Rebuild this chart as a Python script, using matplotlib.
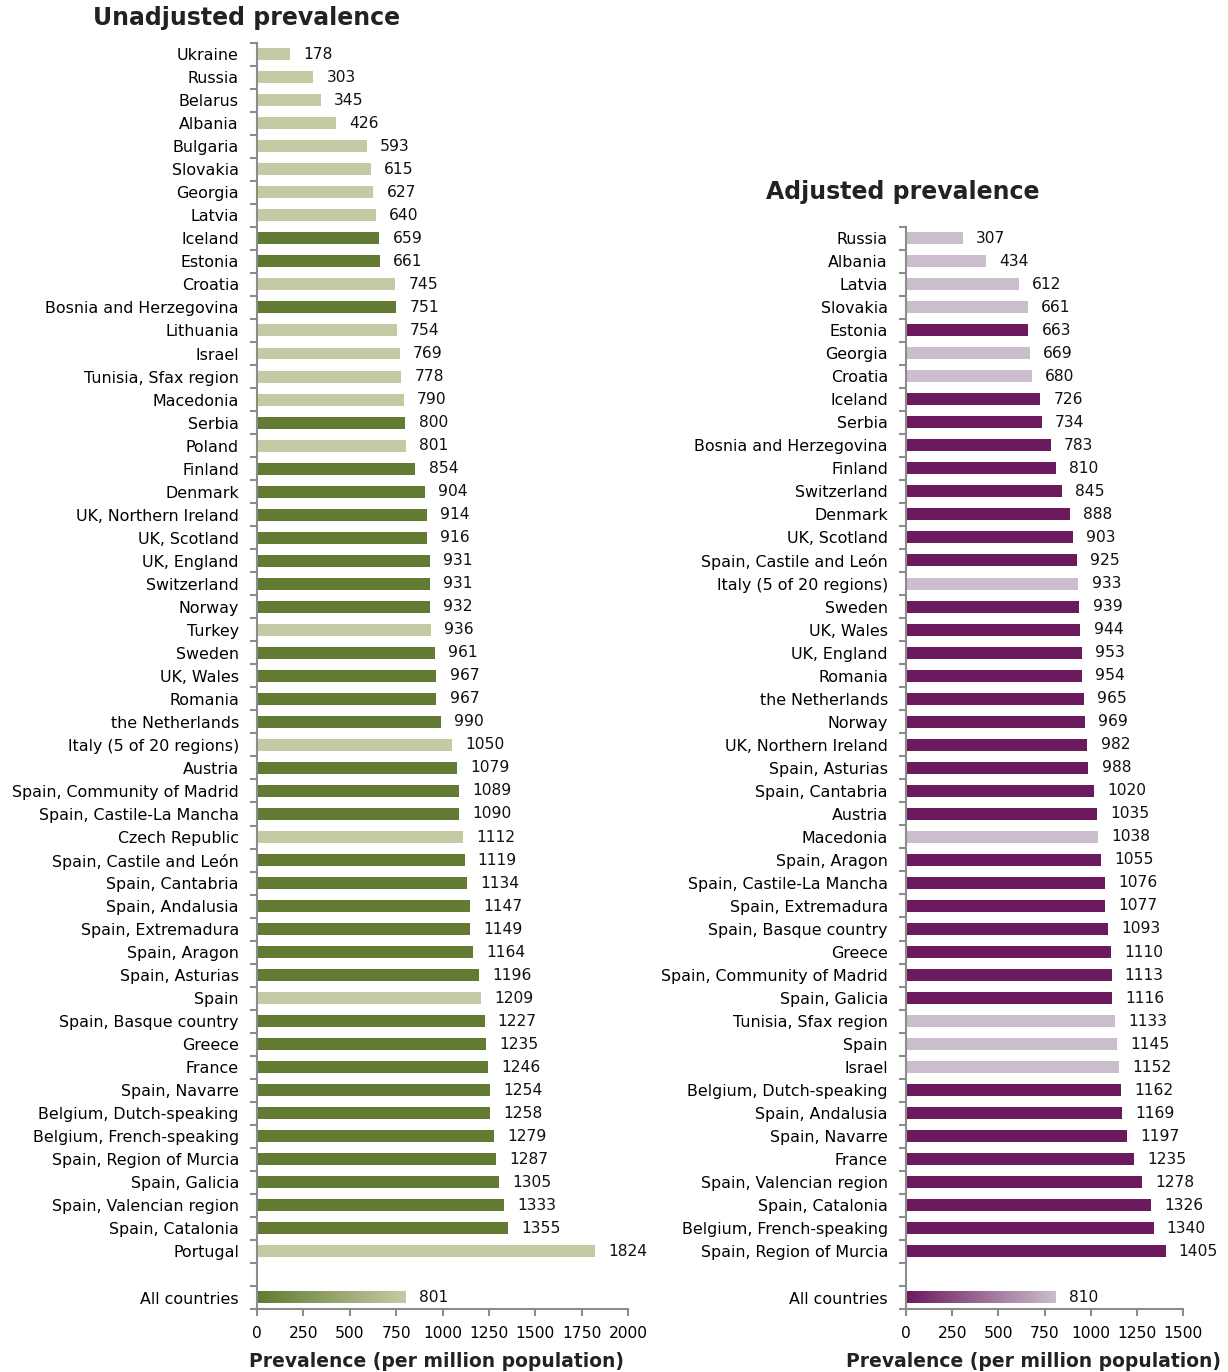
import numpy as np
import matplotlib
matplotlib.use("Agg")
import matplotlib.pyplot as plt
from matplotlib.colors import LinearSegmentedColormap

# unadjusted prevalence (per million population), top to bottom
unadj_names = [
    "Ukraine", "Russia", "Belarus", "Albania", "Bulgaria", "Slovakia", "Georgia", "Latvia",
    "Iceland", "Estonia", "Croatia", "Bosnia and Herzegovina", "Lithuania", "Israel",
    "Tunisia, Sfax region", "Macedonia", "Serbia", "Poland", "Finland", "Denmark",
    "UK, Northern Ireland", "UK, Scotland", "UK, England", "Switzerland", "Norway", "Turkey",
    "Sweden", "UK, Wales", "Romania", "the Netherlands", "Italy (5 of 20 regions)", "Austria",
    "Spain, Community of Madrid", "Spain, Castile-La Mancha", "Czech Republic",
    "Spain, Castile and León", "Spain, Cantabria", "Spain, Andalusia", "Spain, Extremadura",
    "Spain, Aragon", "Spain, Asturias", "Spain", "Spain, Basque country", "Greece", "France",
    "Spain, Navarre", "Belgium, Dutch-speaking", "Belgium, French-speaking",
    "Spain, Region of Murcia", "Spain, Galicia", "Spain, Valencian region", "Spain, Catalonia",
    "Portugal",
]
unadj_vals = [
    178, 303, 345, 426, 593, 615, 627, 640, 659, 661, 745, 751, 754, 769, 778, 790, 800, 801,
    854, 904, 914, 916, 931, 931, 932, 936, 961, 967, 967, 990, 1050, 1079, 1089, 1090, 1112,
    1119, 1134, 1147, 1149, 1164, 1196, 1209, 1227, 1235, 1246, 1254, 1258, 1279, 1287, 1305,
    1333, 1355, 1824,
]
# 1 = light bar group
unadj_light = [
    1, 1, 1, 1, 1, 1, 1, 1, 0, 0, 1, 0, 1, 1, 1, 1, 0, 1, 0, 0, 0, 0, 0, 0, 0, 1, 0, 0, 0, 0,
    1, 0, 0, 0, 1, 0, 0, 0, 0, 0, 0, 1, 0, 0, 0, 0, 0, 0, 0, 0, 0, 0, 1,
]
unadj_all = 801

# adjusted prevalence
adj_names = [
    "Russia", "Albania", "Latvia", "Slovakia", "Estonia", "Georgia", "Croatia", "Iceland",
    "Serbia", "Bosnia and Herzegovina", "Finland", "Switzerland", "Denmark", "UK, Scotland",
    "Spain, Castile and León", "Italy (5 of 20 regions)", "Sweden", "UK, Wales", "UK, England",
    "Romania", "the Netherlands", "Norway", "UK, Northern Ireland", "Spain, Asturias",
    "Spain, Cantabria", "Austria", "Macedonia", "Spain, Aragon", "Spain, Castile-La Mancha",
    "Spain, Extremadura", "Spain, Basque country", "Greece", "Spain, Community of Madrid",
    "Spain, Galicia", "Tunisia, Sfax region", "Spain", "Israel", "Belgium, Dutch-speaking",
    "Spain, Andalusia", "Spain, Navarre", "France", "Spain, Valencian region",
    "Spain, Catalonia", "Belgium, French-speaking", "Spain, Region of Murcia",
]
adj_vals = [
    307, 434, 612, 661, 663, 669, 680, 726, 734, 783, 810, 845, 888, 903, 925, 933, 939, 944,
    953, 954, 965, 969, 982, 988, 1020, 1035, 1038, 1055, 1076, 1077, 1093, 1110, 1113, 1116,
    1133, 1145, 1152, 1162, 1169, 1197, 1235, 1278, 1326, 1340, 1405,
]
adj_light = [
    1, 1, 1, 1, 0, 1, 1, 0, 0, 0, 0, 0, 0, 0, 0, 1, 0, 0, 0, 0, 0, 0, 0, 0, 0, 0, 1, 0, 0, 0,
    0, 0, 0, 0, 1, 1, 1, 0, 0, 0, 0, 0, 0, 0, 0,
]
adj_all = 810

plt.rcParams['font.family'] = ['DejaVu Sans']
AXIS_GREY = '#8c8c8c'

fig = plt.figure(figsize=(12.28, 13.72), dpi=100)


def draw_panel(ax, names, vals, light, all_val, dark_c, light_c, xmax, xstep):
    n = len(names)
    ys = np.arange(n)
    cols = [light_c if l else dark_c for l in light]
    ax.barh(ys, vals, height=0.52, color=cols)
    for y, v in zip(ys, vals):
        ax.annotate(str(v), (v, y), xytext=(9.5, 0), textcoords='offset points',
                    va='center', ha='left', fontsize=11.2, color='#111111')
    # "All countries" after one blank slot, gradient fill
    y_all = n + 1
    cmap = LinearSegmentedColormap.from_list('g', [dark_c, light_c])
    grad = np.linspace(0, 1, 256).reshape(1, -1)
    ax.imshow(grad, cmap=cmap, aspect='auto',
              extent=(0, all_val, y_all + 0.26, y_all - 0.26), zorder=2)
    ax.annotate(str(all_val), (all_val, y_all), xytext=(9.5, 0), textcoords='offset points',
                va='center', ha='left', fontsize=11.2, color='#111111')

    ax.set_xlim(0, xmax)
    ax.set_ylim(y_all + 0.5, -0.5)
    ax.set_yticks(list(ys) + [y_all])
    ax.set_yticklabels(names + ["All countries"], fontsize=11.4)
    ax.set_yticks(np.arange(-0.5, y_all + 1), minor=True)
    ax.tick_params(axis='y', which='major', length=0, pad=13)
    ax.tick_params(axis='y', which='minor', length=5, color=AXIS_GREY, width=1.5)
    ax.set_xticks(np.arange(0, xmax + 1, xstep))
    ax.tick_params(axis='x', length=5, color=AXIS_GREY, width=1.5, labelsize=11.2, pad=7)
    for s in ['top', 'right']:
        ax.spines[s].set_visible(False)
    for s in ['left', 'bottom']:
        ax.spines[s].set_color(AXIS_GREY)
        ax.spines[s].set_linewidth(1.5)
    ax.set_xlabel("Prevalence (per million population)", fontsize=13.5,
                  fontweight='bold', color='#222222', labelpad=5)


ax1 = fig.add_axes([0.2093, 0.0459, 0.3021, 0.923])
draw_panel(ax1, unadj_names, unadj_vals, unadj_light, unadj_all,
           '#637a32', '#c4cba4', 2000, 250)
ax1.xaxis.set_label_coords(0.485, -0.034)

ax2 = fig.add_axes([0.7378, 0.0459, 0.2256, 0.789])
draw_panel(ax2, adj_names, adj_vals, adj_light, adj_all,
           '#6b1a5e', '#cabdcc', 1500, 250)
ax2.xaxis.set_label_coords(0.46, -0.040)

fig.text(0.201, 0.987, "Unadjusted prevalence", fontsize=17, fontweight='bold',
         color='#222222', ha='center', va='center')
fig.text(0.735, 0.860, "Adjusted prevalence", fontsize=17, fontweight='bold',
         color='#222222', ha='center', va='center')

fig.savefig("out.png", dpi=100)
